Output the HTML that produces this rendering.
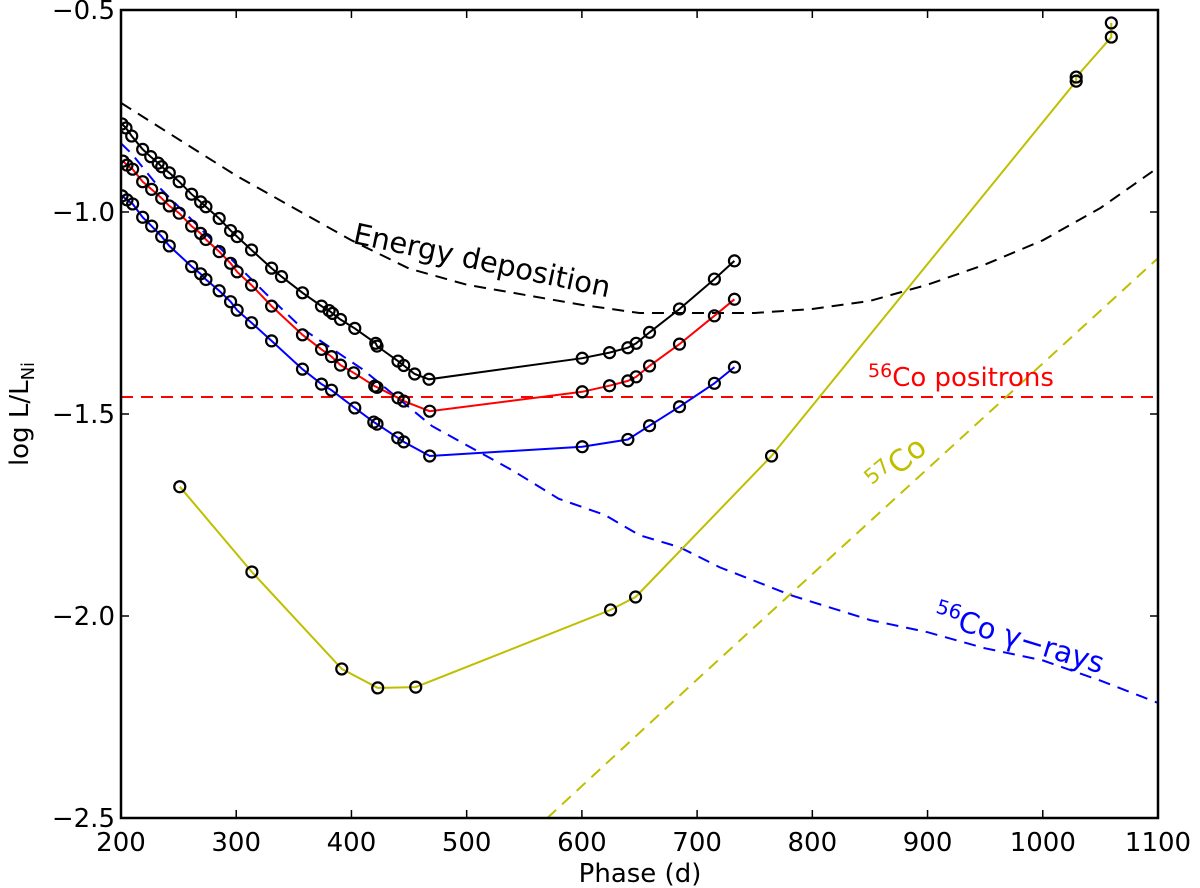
<!DOCTYPE html>
<html><head><meta charset="utf-8"><style>
html,body{margin:0;padding:0;background:#fff;}
svg{display:block;font-family:"DejaVu Sans","Liberation Sans",sans-serif;}
</style></head><body>
<svg id="chart" width="1200" height="888" viewBox="0 0 1200 888"></svg>
<script>
const xTicks=[200,300,400,500,600,700,800,900,1000,1100];
const yTicks=[-0.5,-1.0,-1.5,-2.0,-2.5];
const blackPhase=[200.9,204.3,209.3,218.8,225.8,232.3,235.3,241.9,250.5,261.3,269.1,273.7,285.2,295.1,300.8,313.3,330.7,339.3,357.5,374.0,380.6,383.6,390.5,402.9,421.1,422.2,440.4,445.4,454.9,467.3,600.3,624.0,639.9,647.1,658.7,684.7,715.0,732.4];
const blackVal=[-0.782,-0.792,-0.812,-0.845,-0.863,-0.879,-0.888,-0.903,-0.925,-0.956,-0.975,-0.987,-1.016,-1.046,-1.061,-1.094,-1.139,-1.160,-1.200,-1.233,-1.244,-1.251,-1.266,-1.288,-1.325,-1.332,-1.369,-1.380,-1.401,-1.414,-1.362,-1.348,-1.336,-1.325,-1.298,-1.240,-1.166,-1.121];
const redPhase=[201.7,205.2,210.1,218.8,226.6,235.3,241.9,250.5,261.3,269.1,273.7,285.2,295.1,300.8,313.3,330.7,357.5,374.0,382.7,390.5,402.0,420.2,422.2,440.4,445.4,467.9,600.3,624.0,639.9,647.1,658.7,684.7,715.0,732.4];
const redVal=[-0.874,-0.884,-0.894,-0.925,-0.944,-0.966,-0.985,-1.003,-1.035,-1.053,-1.068,-1.098,-1.127,-1.148,-1.181,-1.233,-1.304,-1.340,-1.358,-1.379,-1.398,-1.431,-1.434,-1.460,-1.468,-1.493,-1.445,-1.430,-1.418,-1.408,-1.381,-1.327,-1.257,-1.216];
const bluePhase=[200.9,205.2,210.1,218.8,226.6,235.3,241.9,261.3,269.1,273.7,285.2,295.1,300.8,313.3,330.7,357.5,374.0,382.7,402.9,419.4,422.2,440.2,445.4,467.9,600.3,639.9,658.7,684.7,715.0,732.4];
const blueVal=[-0.960,-0.970,-0.980,-1.013,-1.035,-1.061,-1.084,-1.135,-1.153,-1.167,-1.195,-1.222,-1.243,-1.274,-1.319,-1.389,-1.426,-1.441,-1.485,-1.520,-1.525,-1.559,-1.569,-1.604,-1.581,-1.563,-1.529,-1.482,-1.424,-1.384];
const yellowPhase=[251,313.6,391.6,422.8,455.8,624.9,646.6,764.6,1029,1029,1059.5,1059.5];
const yellowVal=[-1.68,-1.891,-2.131,-2.178,-2.176,-1.985,-1.953,-1.604,-0.676,-0.666,-0.567,-0.532];
const depPhase=[200,250,300,350,400,450,500,550,600,650,700,750,800,850,900,950,1000,1050,1100];
const depVal=[-0.73,-0.82,-0.91,-0.99,-1.07,-1.14,-1.18,-1.205,-1.23,-1.25,-1.25,-1.25,-1.24,-1.22,-1.18,-1.13,-1.07,-0.99,-0.89];
const posPhase=[200,1100];
const posVal=[-1.458,-1.458];
const gamPhase=[200,209,232,325,358,410,440,470,540,580,620,650,685,720,783,850,900,950,1000,1050,1100];
const gamVal=[-0.83,-0.855,-0.936,-1.20,-1.29,-1.39,-1.46,-1.53,-1.64,-1.71,-1.75,-1.80,-1.83,-1.88,-1.95,-2.01,-2.04,-2.08,-2.11,-2.16,-2.215];
const co57Phase=[570,702,1100];
const co57Val=[-2.5,-2.152,-1.114];

const L=121,R=1158,T=10,B=818,X0=200,X1=1100,Y0=-2.5,Y1=-0.5;
const px=v=>L+(v-X0)/(X1-X0)*(R-L);
const py=v=>B-(v-Y0)/(Y1-Y0)*(B-T);
const svg=document.getElementById('chart');
const NS='http://www.w3.org/2000/svg';
function mk(tag,attrs,parent){const e=document.createElementNS(NS,tag);for(const k in attrs)e.setAttribute(k,attrs[k]);(parent||svg).appendChild(e);return e;}

const defs=mk('defs',{});
const cp=mk('clipPath',{id:'clip'},defs);
mk('rect',{x:L,y:T,width:R-L,height:B-T},cp);
const plot=mk('g',{'clip-path':'url(#clip)'});



function line(xs,ys,color,dash,name){
  const d=xs.map((x,i)=>(i?'L':'M')+px(x).toFixed(1)+','+py(ys[i]).toFixed(1)).join(' ');
  const p=mk('path',{d:d,fill:'none',stroke:color,'stroke-width':2,'stroke-dasharray':dash||'none'},plot);
  
  
}
function markers(xs,ys,name){
  const g=mk('g',{},plot);
  
  
  xs.forEach((x,i)=>{
    const c=mk('circle',{cx:px(x),cy:py(ys[i]),r:5.5,fill:'none',stroke:'#000','stroke-width':2.2},g);
    
    
  });
}
line(depPhase,depVal,'#000','12,8','energy-deposition-line');
line(posPhase,posVal,'#ff0000','12,8','co56-positrons-line');
line(gamPhase,gamVal,'#0000ff','12,8','co56-gamma-line');
line(co57Phase,co57Val,'#bfbf00','12,8','co57-line');
line(blackPhase,blackVal,'#000',null,'total-series-line');
line(redPhase,redVal,'#ff0000',null,'red-series-line');
line(bluePhase,blueVal,'#0000ff',null,'blue-series-line');
line(yellowPhase,yellowVal,'#bfbf00',null,'yellow-series-line');
markers(blackPhase,blackVal,'total-series-markers');
markers(redPhase,redVal,'red-series-markers');
markers(bluePhase,blueVal,'blue-series-markers');
markers(yellowPhase,yellowVal,'yellow-series-markers');

const frame=mk('rect',{x:L,y:T,width:R-L,height:B-T,fill:'none',stroke:'#000','stroke-width':2.5});



xTicks.forEach(v=>{
  const x=px(v);
  mk('line',{x1:x,y1:B,x2:x,y2:B-8,stroke:'#000','stroke-width':1.5});
  mk('line',{x1:x,y1:T,x2:x,y2:T+8,stroke:'#000','stroke-width':1.5});
  const t=mk('text',{x:x,y:B+33,'font-size':26,'text-anchor':'middle',fill:'#000'});
  t.textContent=v;
  
  
});
yTicks.forEach(v=>{
  const y=py(v);
  mk('line',{x1:L,y1:y,x2:L+8,y2:y,stroke:'#000','stroke-width':1.5});
  mk('line',{x1:R,y1:y,x2:R-8,y2:y,stroke:'#000','stroke-width':1.5});
  const t=mk('text',{x:L-6,y:y+9,'font-size':26,'text-anchor':'end',fill:'#000'});
  t.textContent='\u2212'+Math.abs(v).toFixed(1);
  
  
});
</script>
<div style="position:absolute;left:0;top:0;width:1200px;height:888px;pointer-events:none;">
<svg width="1200" height="888" style="position:absolute;left:0;top:0">
<text x="640" y="882" font-size="26" text-anchor="middle" font-family="DejaVu Sans, Liberation Sans, sans-serif">Phase (d)</text>
<text transform="translate(28,414) rotate(-90)" font-size="26" text-anchor="middle" font-family="DejaVu Sans, Liberation Sans, sans-serif">log L/L<tspan font-size="18" dy="6">Ni</tspan></text>
<text transform="translate(352,243) rotate(12)" font-size="29" font-family="DejaVu Sans, Liberation Sans, sans-serif">Energy deposition</text>
<text x="868" y="386" font-size="26" fill="#ff0000" font-family="DejaVu Sans, Liberation Sans, sans-serif"><tspan font-size="19" dy="-9">56</tspan><tspan dy="9">Co positrons</tspan></text>
<text transform="translate(878,493) rotate(-40)" font-size="30" fill="#bfbf00" font-family="DejaVu Sans, Liberation Sans, sans-serif"><tspan font-size="21" dy="-10">57</tspan><tspan dy="10">Co</tspan></text>
<text transform="translate(932,622) rotate(17)" font-size="29" fill="#0000ff" font-family="DejaVu Sans, Liberation Sans, sans-serif"><tspan font-size="20" dy="-10">56</tspan><tspan dy="10">Co γ−rays</tspan></text>
</svg></div>
</body></html>
